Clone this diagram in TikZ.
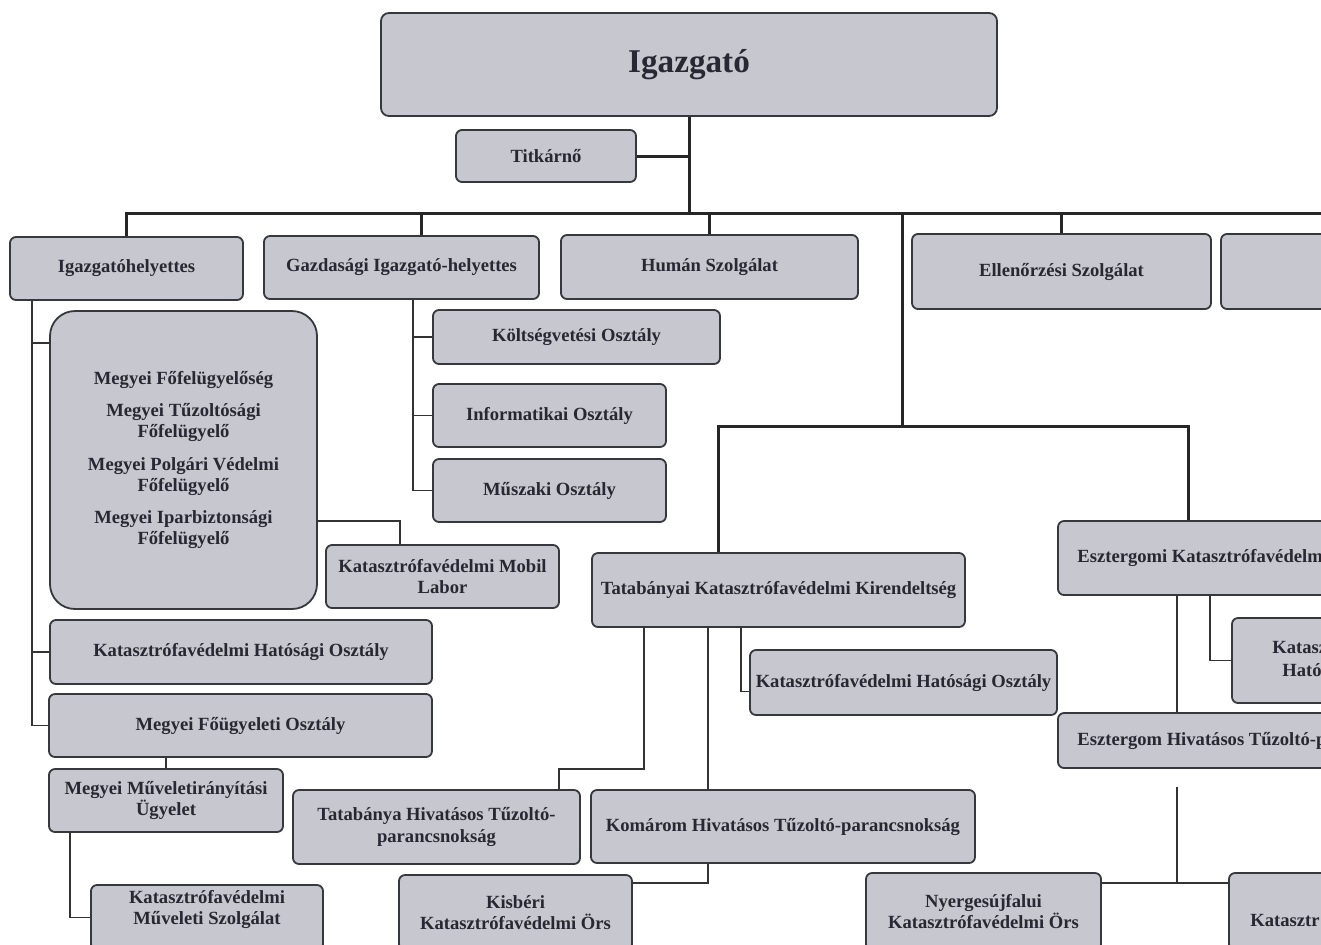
\documentclass[tikz,border=0pt]{standalone}
\usepackage{fontspec}
\setmainfont{Liberation Serif}
\usepackage{xcolor}
\usepackage{tikz}
\usetikzlibrary{positioning}

\definecolor{boxfill}{RGB}{199,199,207}
\definecolor{boxline}{RGB}{55,55,62}
\definecolor{boxtext}{RGB}{40,40,50}

\begin{document}
\begin{tikzpicture}[x=0.5pt, y=-0.5pt,
    box/.style={rectangle, rounded corners=3pt, draw=boxline, line width=0.9pt, fill=boxfill, text=boxtext,
        font=\bfseries\fontsize{9.3}{10.6}\selectfont, align=center, inner sep=0pt},
    lbl/.style={text=boxtext, font=\bfseries\fontsize{9.3}{10.6}\selectfont, align=center, inner sep=0pt},
    bus/.style={draw=black!85, line width=1.5pt},
    link/.style={draw=black!80, line width=0.8pt}]

    \useasboundingbox (0,0) rectangle (1321,944);
    \clip (0,0) rectangle (1321,944);
    \fill[white] (0,0) rectangle (1321,944);

    \node[box, rounded corners=4pt, minimum width=308pt, minimum height=51.5pt,
        font=\bfseries\fontsize{16.6}{20}\selectfont] (dir) at (689,64.5) {Igazgató};
    \node[box, minimum width=90pt, minimum height=26pt] (titk) at (546,156) {Titkárnő};

    \node[box, minimum width=116.5pt, minimum height=31.5pt] (ighely) at (126.5,268.5) {Igazgatóhelyettes};
    \node[box, minimum width=137.5pt, minimum height=31.5pt] (gazd) at (401.5,267.5) {Gazdasági Igazgató-helyettes};
    \node[box, minimum width=148.5pt, minimum height=32pt] (human) at (709.5,267) {Humán Szolgálat};
    \node[box, minimum width=149.5pt, minimum height=37.5pt] (ellen) at (1061.5,271.5) {Ellenőrzési Szolgálat};
    \node[box, minimum width=59.5pt, minimum height=37.5pt] (rest) at (1280.5,271.5) {};

    \node[box, rounded corners=12.5pt, minimum width=133.5pt, minimum height=149pt] (megyei) at (183.5,460)
        {Megyei Főfelügyelőség\\[5.5pt] Megyei Tűzoltósági\\ Főfelügyelő\\[5.5pt]
         Megyei Polgári Védelmi\\ Főfelügyelő\\[5.5pt] Megyei Iparbiztonsági\\ Főfelügyelő};
    \node[box, minimum width=143.5pt, minimum height=27pt] (koltseg) at (576.5,337) {Költségvetési Osztály};
    \node[box, minimum width=116.5pt, minimum height=31.5pt] (info) at (549.5,415.5) {Informatikai Osztály};
    \node[box, minimum width=116.5pt, minimum height=31.5pt] (muszaki) at (549.5,490.5) {Műszaki Osztály};
    \node[box, minimum width=116.5pt, minimum height=31.5pt] (mobil) at (442.5,576.5) {Katasztrófavédelmi Mobil\\ Labor};
    \node[box, minimum width=191pt, minimum height=32pt] (khatL) at (241,652) {Katasztrófavédelmi Hatósági Osztály};
    \node[box, minimum width=191.5pt, minimum height=31.5pt] (fougy) at (240.5,725.5) {Megyei Főügyeleti Osztály};
    \node[box, minimum width=117pt, minimum height=31.5pt] (muvir) at (166,800.5) {Megyei Műveletirányítási\\ Ügyelet};
    \node[box, minimum width=116pt, minimum height=32.5pt] (muvsz) at (207,917.5) {};
    \node[lbl] (muvszt) at (207,909.5) {Katasztrófavédelmi\\ Műveleti Szolgálat};

    \node[box, minimum width=186.5pt, minimum height=37pt] (tatab) at (778.5,590) {Tatabányai Katasztrófavédelmi Kirendeltség};
    \node[box, minimum width=153.5pt, minimum height=32.5pt] (khatM) at (903.5,682.5) {Katasztrófavédelmi Hatósági Osztály};
    \node[box, minimum width=143.5pt, minimum height=37pt] (tathiv) at (436.5,827) {Tatabánya Hivatásos Tűzoltó-\\ parancsnokság};
    \node[box, minimum width=192pt, minimum height=36.5pt] (komarom) at (783,826.5) {Komárom Hivatásos Tűzoltó-parancsnokság};
    \node[box, minimum width=116.5pt, minimum height=37.5pt] (kisber) at (515.5,912.5) {Kisbéri\\ Katasztrófavédelmi Örs};

    \node[box, minimum width=141pt, minimum height=37pt] (eszk) at (1199,558) {};
    \node[lbl, anchor=west] (eszkt) at (1077,558) {Esztergomi Katasztrófavédelm};
    \node[box, minimum width=54pt, minimum height=42.5pt] (khatR) at (1286,660.5) {};
    \node[lbl, anchor=west] (khatRa) at (1272,647) {Katasz};
    \node[lbl, anchor=west] (khatRb) at (1282,670) {Hatós};
    \node[box, minimum width=141pt, minimum height=27.5pt] (eszhiv) at (1199,740.5) {};
    \node[lbl, anchor=west] (eszhivt) at (1077,741) {Esztergom Hivatásos Tűzoltó-p};
    \node[box, minimum width=117.5pt, minimum height=38.5pt] (nyerg) at (983.5,911.5) {Nyergesújfalui\\ Katasztrófavédelmi Örs};
    \node[box, minimum width=55.5pt, minimum height=38.5pt] (katR) at (1284.5,911.5) {};
    \node[lbl, anchor=west] (katRt) at (1250,920) {Katasztr};

    \coordinate (busM) at (689,213);
    \coordinate (busR) at (1340,213);
    \coordinate (gcol) at (421,0);
    \coordinate (kir) at (902,426);
    \coordinate (tcol) at (718,0);
    \coordinate (ecol) at (1188,0);
    \coordinate (c1) at (32,0);
    \coordinate (mIn) at (50,343);
    \coordinate (mcol) at (400,0);
    \coordinate (c2) at (413,0);
    \coordinate (c3) at (70,0);
    \coordinate (t1) at (741,0);
    \coordinate (t2) at (644,769);
    \coordinate (thc) at (559,0);
    \coordinate (t3) at (708,0);
    \coordinate (kb) at (632,883);
    \coordinate (e1) at (1177,0);
    \coordinate (e2) at (1210,0);
    \coordinate (ny0) at (1177,787);
    \coordinate (nyJ) at (1177,883);

    \draw[bus] (dir) -- (busM);
    \draw[bus] (titk) -- (titk -| busM);
    \draw[bus] (ighely) |- (busR);
    \draw[bus] (gazd.north -| gcol) -- (gcol |- busM);
    \draw[bus] (human) -- (human |- busM);
    \draw[bus] (ellen) -- (ellen |- busM);
    \draw[bus] (busM -| kir) -- (kir);
    \draw[bus] (tatab.north -| tcol) |- (kir) -| (eszk.north -| ecol);

    \draw[link] (ighely.south -| c1) |- (fougy);
    \draw[link] (c1 |- mIn) -- (mIn);
    \draw[link] (c1 |- khatL) -- (khatL);
    \draw[link] ([yshift=-30.5pt]megyei.east) -| (mobil.north -| mcol);
    \draw[link] (gazd.south -| c2) |- (muszaki);
    \draw[link] (c2 |- koltseg) -- (koltseg);
    \draw[link] (c2 |- info) -- (info);
    \draw[link] (fougy.south -| muvir.north) -- (muvir);
    \draw[link] (muvir.south -| c3) |- (muvsz);
    \draw[link] (tatab.south -| t1) |- ([yshift=-4.5pt]khatM.west);
    \draw[link] (tatab.south -| t2) -- (t2) -| (tathiv.north -| thc);
    \draw[link] (tatab.south -| t3) -- (komarom.north -| t3);
    \draw[link] (komarom.south -| t3) |- (kb);
    \draw[link] (eszk.south -| e1) -- (eszhiv.north -| e1);
    \draw[link] (eszk.south -| e2) |- (khatR);
    \draw[link] (ny0) -- (nyJ);
    \draw[link] (nyerg.east |- nyJ) -- (katR.west |- nyJ);
\end{tikzpicture}
\end{document}
